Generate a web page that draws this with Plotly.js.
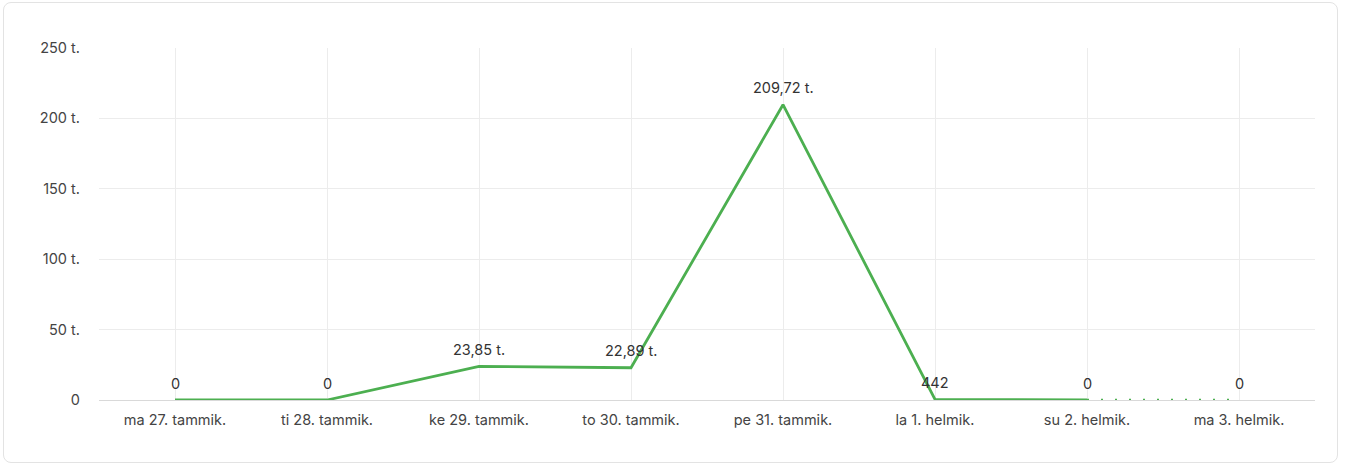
<!DOCTYPE html>
<html>
<head>
<meta charset="utf-8">
<script src="https://cdn.plot.ly/plotly-3.0.1.min.js"></script>
<style>
html,body{margin:0;padding:0;background:#fff;}
#wrap{position:relative;width:1352px;height:467px;}
#card{position:absolute;left:3px;top:2px;width:1335px;height:461px;border:1px solid #e3e3e3;border-radius:8px;box-sizing:border-box;}
#chart{position:absolute;left:0;top:0;width:1352px;height:467px;}
</style>
</head>
<body>
<div id="wrap"><div id="card"></div><div id="chart"></div></div>
<script>
const categories = ["ma 27. tammik.","ti 28. tammik.","ke 29. tammik.","to 30. tammik.","pe 31. tammik.","la 1. helmik.","su 2. helmik.","ma 3. helmik."];
const values = [0, 0, 23.85, 22.89, 209.72, 0.442, 0, 0];
const valueLabels = ["0","0","23,85 t.","22,89 t.","209,72 t.","442","0","0"];
const yTickVals = [0, 50, 100, 150, 200, 250];
const yTickText = ["0","50 t.","100 t.","150 t.","200 t.","250 t."];
const solidCount = 7; // points joined by a solid line; the last segment is dotted

const green = "#4caf50";
const fontFam = "Inter, sans-serif";
const traces = [
  {x: categories.slice(0, solidCount), y: values.slice(0, solidCount), type: "scatter", mode: "lines",
   line: {color: green, width: 2.8}, hoverinfo: "skip", cliponaxis: false},
  {x: categories.slice(solidCount - 1), y: values.slice(solidCount - 1), type: "scatter", mode: "lines",
   line: {color: green, width: 2.5, dash: "2px,12px"}, hoverinfo: "skip", cliponaxis: false}
];
const annotations = categories.map((c, i) => ({
  x: c, y: values[i], xref: "x", yref: "y", text: valueLabels[i], showarrow: false,
  yshift: 17, font: {family: fontFam, size: 14.5, color: "#333"}
}));
const layout = {
  width: 1352, height: 467,
  margin: {l: 99, r: 37, t: 48, b: 67},
  paper_bgcolor: "rgba(0,0,0,0)", plot_bgcolor: "rgba(0,0,0,0)",
  showlegend: false,
  font: {family: fontFam, size: 14.5, color: "#444"},
  annotations: annotations,
  xaxis: {type: "category", categoryorder: "array", categoryarray: categories, range: [-0.5, 7.5],
    showgrid: true, gridcolor: "#ececec", gridwidth: 1, zeroline: false,
    showline: true, linecolor: "#d9d9d9", linewidth: 1,
    ticks: "", tickfont: {family: fontFam, size: 14.5, color: "#444"}, ticklabelstandoff: 7},
  yaxis: {range: [0, 250], tickvals: yTickVals, ticktext: yTickText,
    showgrid: true, gridcolor: "#ececec", gridwidth: 1, zeroline: false, showline: false,
    ticks: "", tickfont: {family: fontFam, size: 14.5, color: "#444"}, ticklabelstandoff: 18}
};
Plotly.newPlot("chart", traces, layout, {staticPlot: true});
</script>
</body>
</html>
